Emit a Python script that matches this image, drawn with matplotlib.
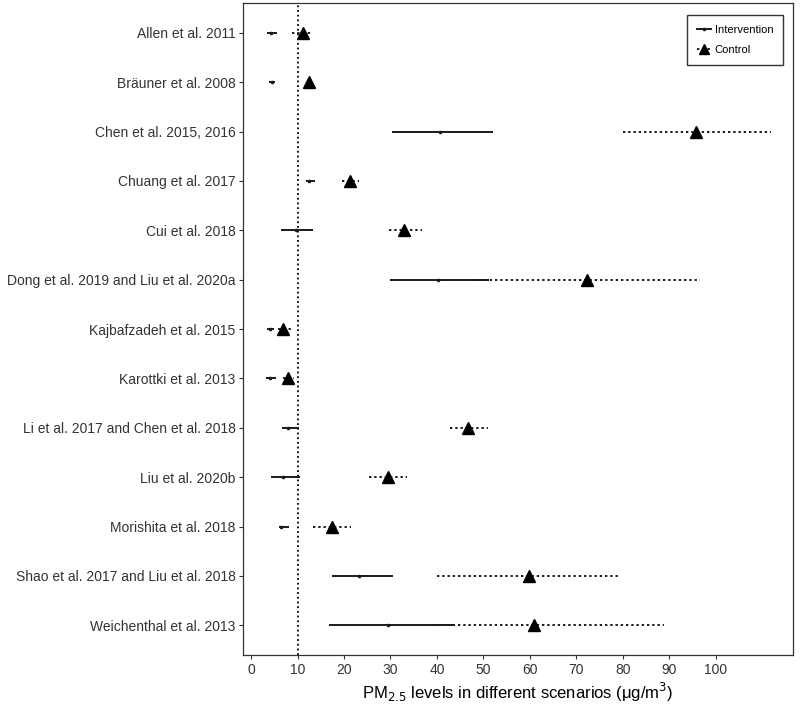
import numpy as np
import matplotlib
matplotlib.use("Agg")
import matplotlib.pyplot as plt
from matplotlib.lines import Line2D

plt.rcParams['font.family'] = ['Liberation Sans', 'DejaVu Sans']

studies = ["Allen et al. 2011", "Bräuner et al. 2008", "Chen et al. 2015, 2016",
           "Chuang et al. 2017", "Cui et al. 2018",
           "Dong et al. 2019 and Liu et al. 2020a", "Kajbafzadeh et al. 2015",
           "Karottki et al. 2013", "Li et al. 2017 and Chen et al. 2018",
           "Liu et al. 2020b", "Morishita et al. 2018",
           "Shao et al. 2017 and Liu et al. 2018", "Weichenthal et al. 2013"]

# intervention: mean, low, high
int_mean = [4.3, 4.5, 40.6, 12.5, 9.7, 40.2, 4.1, 4.0, 8.0, 6.8, 6.4, 23.3, 29.4]
int_low = [3.5, 3.9, 30.3, 11.8, 6.5, 30.0, 3.5, 3.2, 6.6, 4.3, 5.9, 17.4, 16.8]
int_high = [5.5, 5.1, 52.0, 13.8, 13.3, 51.3, 5.0, 5.3, 10.4, 10.5, 8.2, 30.5, 43.5]

# control: mean, low, high
ctl_mean = [11.1, 12.5, 95.8, 21.3, 33.0, 72.3, 6.9, 8.0, 46.6, 29.4, 17.4, 59.9, 60.9]
ctl_low = [8.7, 12.0, 80.1, 19.5, 29.7, 48.0, 5.7, 6.8, 42.8, 25.4, 13.4, 40.1, 40.0]
ctl_high = [13.3, 13.0, 112.0, 23.2, 36.8, 96.6, 8.5, 9.2, 50.9, 33.5, 21.5, 79.5, 88.9]

who_guideline = 10

fig = plt.figure(figsize=(8, 7.04), dpi=100)
ax = fig.add_axes([0.304, 0.0696, 0.687, 0.926])

y = np.arange(len(studies))
line_col = "#1a1a1a"

ax.hlines(y, ctl_low, ctl_high, colors=line_col, linestyles=(0, (1.2, 1.5)), linewidth=1.4, zorder=2)
ax.hlines(y, int_low, int_high, colors=line_col, linestyles="solid", linewidth=1.4, zorder=3)
ax.plot(int_mean, y, linestyle="none", marker="o", markersize=1.6, color=line_col, zorder=4)
ax.plot(ctl_mean, y, linestyle="none", marker="^", markersize=8, color="black", zorder=5)

ax.axvline(who_guideline, color="black", linestyle=(0, (1, 1.6)), linewidth=1.3, zorder=1)

ax.set_xlim(-1.7, 116.6)
ax.set_ylim(len(studies) - 0.4, -0.6)
ax.set_xticks(np.arange(0, 101, 10))
ax.set_yticks(y)
ax.set_yticklabels(studies)
ax.tick_params(axis="both", labelsize=10, colors="#333333", length=3, width=0.8, pad=2.5)
for sp in ax.spines.values():
    sp.set_color("#333333")
    sp.set_linewidth(0.9)

ax.set_xlabel("PM$_{2.5}$ levels in different scenarios (\u03bcg/m$^3$)", fontsize=12, color="black", labelpad=3)

handles = [Line2D([0], [0], color=line_col, linewidth=1.4, marker="o", markersize=1.6),
           Line2D([0], [0], color=line_col, linewidth=1.4, linestyle=(0, (1.2, 1.5)),
                  marker="^", markersize=7, markerfacecolor="black", markeredgecolor="black")]
leg = ax.legend(handles, ["Intervention", "Control"], loc="upper right",
                bbox_to_anchor=(0.993, 0.991), fontsize=8, frameon=True,
                fancybox=False, edgecolor="black", handlelength=1.3,
                handletextpad=0.3, borderpad=0.9, labelspacing=0.9)
leg.get_frame().set_linewidth(1.0)

fig.savefig("out.png", dpi=100)
